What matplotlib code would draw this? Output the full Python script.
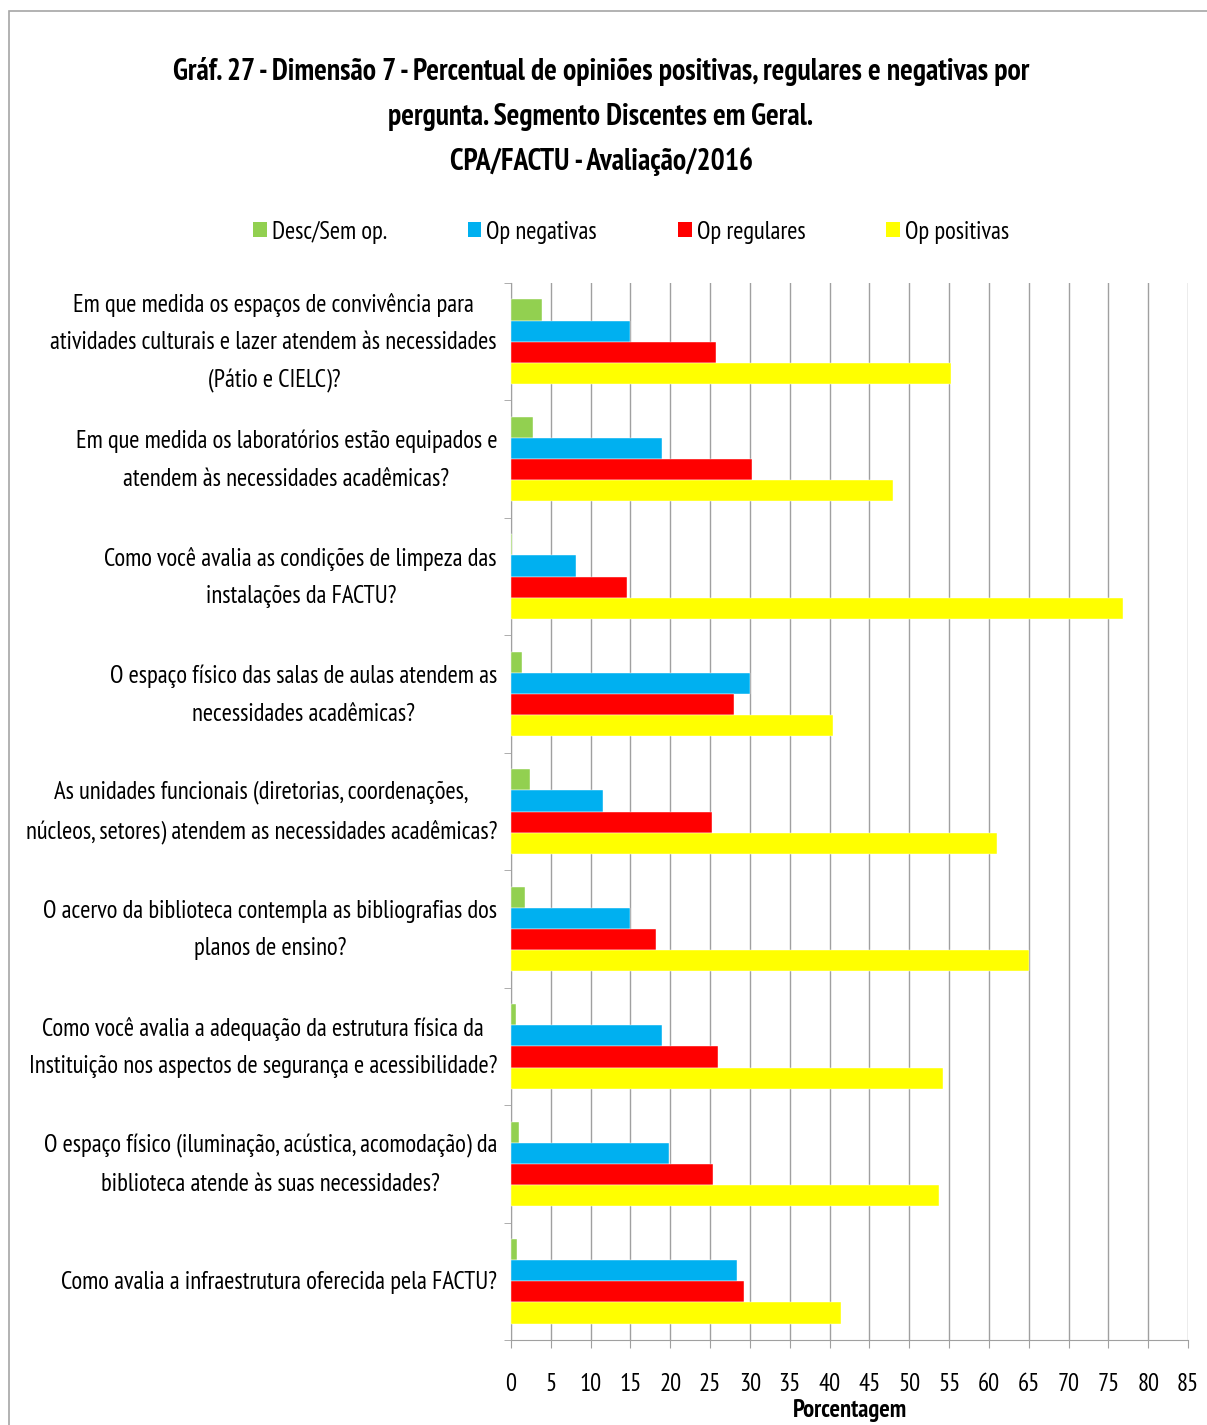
import matplotlib
matplotlib.use("Agg")
import matplotlib.pyplot as plt
from matplotlib.patches import Rectangle, Patch
import numpy as np

plt.rcParams['font.family'] = ['PT Sans Narrow', 'Carlito', 'DejaVu Sans']

perguntas = [
    "Em que medida os espaços de convivência para\natividades culturais e lazer atendem às necessidades\n(Pátio e CIELC)?",
    "Em que medida os laboratórios estão equipados e\natendem às necessidades acadêmicas?",
    "Como você avalia as condições de limpeza das\ninstalações da FACTU?",
    "O espaço físico das salas de aulas atendem as\nnecessidades acadêmicas?",
    "As unidades funcionais (diretorias, coordenações,\nnúcleos, setores) atendem as necessidades acadêmicas?",
    "O acervo da biblioteca contempla as bibliografias dos\nplanos de ensino?",
    "Como você avalia a adequação da estrutura física da\nInstituição nos aspectos de segurança e acessibilidade?",
    "O espaço físico (iluminação, acústica, acomodação) da\nbiblioteca atende às suas necessidades?",
    "Como avalia a infraestrutura oferecida pela FACTU?",
]

desc_sem_op = [3.9, 2.7, 0.1, 1.4, 2.4, 1.8, 0.6, 1.0, 0.8]
op_negativas = [15.0, 19.0, 8.1, 30.0, 11.6, 15.0, 18.9, 19.8, 28.4]
op_regulares = [25.8, 30.3, 14.6, 28.0, 25.2, 18.2, 26.0, 25.3, 29.2]
op_positivas = [55.3, 47.9, 76.9, 40.4, 61.0, 65.0, 54.3, 53.7, 41.4]

series = [
    ("Desc/Sem op.", desc_sem_op, "#92D050"),
    ("Op negativas", op_negativas, "#00B0F0"),
    ("Op regulares", op_regulares, "#FF0000"),
    ("Op positivas", op_positivas, "#FFFF00"),
]

W, H = 1207, 1425
fig = plt.figure(figsize=(W / 100, H / 100), dpi=100)
fig.patch.set_facecolor("white")

# outer chart border (cut off at right/bottom like the reference)
fig.patches.append(Rectangle((9 / W, -0.1), 1.2, 1 - 11 / H + 0.1,
                             transform=fig.transFigure, fill=False,
                             edgecolor="#A6A6A6", linewidth=1.2))

ax = fig.add_axes([511 / W, 1 - 1340 / H, (1188 - 511) / W, (1340 - 283) / H])

y = np.arange(len(perguntas))
h = 0.18
for k, (nome, vals, cor) in enumerate(series):
    ax.barh(y + (k - 1.5) * h, vals, height=h, color=cor, label=nome,
            edgecolor="white", linewidth=0.3, zorder=3)

ax.set_xlim(0, 85)
ax.set_ylim(len(perguntas) - 0.5, -0.5)
ax.set_xticks(np.arange(0, 90, 5))
ax.xaxis.grid(True, color="#A0A0A0", linewidth=1.0, zorder=0)
ax.set_axisbelow(True)

fs = 17.7
# question labels drawn as annotations, centred on each group
ax.set_yticks(y)
ax.set_yticklabels([])
for yi, txt in zip(y, perguntas):
    ax.annotate(txt, xy=(0, yi), xycoords=("axes fraction", "data"),
                xytext=(-14, -1), textcoords="offset pixels",
                ha="right", va="center", multialignment="center",
                fontsize=fs, linespacing=1.8, annotation_clip=False)
ax.set_yticks(np.arange(-0.5, len(perguntas)), minor=True)
ax.tick_params(axis="y", which="major", length=0)
ax.tick_params(axis="y", which="minor", length=5, color="#A0A0A0")
ax.tick_params(axis="x", length=6, color="#A0A0A0", labelsize=fs, pad=18)

for s in ["top", "right"]:
    ax.spines[s].set_visible(False)
for s in ["left", "bottom"]:
    ax.spines[s].set_color("#A0A0A0")

ax.set_xlabel("Porcentagem", fontsize=fs, fontweight="bold", labelpad=2)

tfs = 21.3
fig.text(601 / W, 1 - 72 / H,
         "Gráf. 27 - Dimensão 7 - Percentual de opiniões positivas, regulares e negativas por",
         ha="center", va="center", fontsize=tfs, fontweight="bold")
fig.text(601 / W, 1 - 117 / H, "pergunta. Segmento Discentes em Geral.",
         ha="center", va="center", fontsize=tfs, fontweight="bold")
fig.text(601 / W, 1 - 162 / H, "CPA/FACTU - Avaliação/2016",
         ha="center", va="center", fontsize=tfs, fontweight="bold")

handles = [Patch(facecolor=c, label=n) for n, _, c in series]
fig.legend(handles=handles, loc="center", bbox_to_anchor=(631 / W, 1 - 232 / H),
           ncol=4, frameon=False, fontsize=fs, handlelength=0.55,
           handleheight=0.55, handletextpad=0.2, columnspacing=3.3)

fig.savefig("out.png", dpi=100)
